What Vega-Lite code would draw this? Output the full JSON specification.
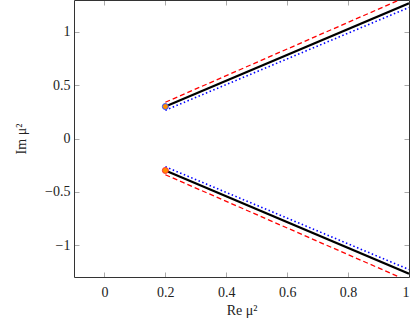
{
  "$schema": "https://vega.github.io/schema/vega-lite/v6.json",
  "width": 335,
  "height": 277,
  "autosize": "none",
  "padding": {"left": 74, "top": 0, "right": 10, "bottom": 56},
  "background": "white",
  "config": {
    "view": {"stroke": null},
    "font": "Liberation Serif, serif",
    "axis": {
      "labelFont": "Liberation Serif, serif",
      "titleFont": "Liberation Serif, serif",
      "labelFontSize": 14,
      "titleFontSize": 14,
      "titleFontWeight": "normal",
      "labelColor": "#222",
      "titleColor": "#222",
      "domainColor": "#333",
      "domainWidth": 1,
      "tickColor": "#aaa",
      "tickSize": -5,
      "grid": false
    }
  },
  "datasets": {
    "lines": [
      {"series": "black", "branch": "up", "x": 0.2, "y": 0.3},
      {"series": "black", "branch": "up", "x": 1.0, "y": 1.27},
      {"series": "black", "branch": "down", "x": 0.2, "y": -0.3},
      {"series": "black", "branch": "down", "x": 1.0, "y": -1.27},
      {"series": "red", "branch": "up", "x": 0.2, "y": 0.34},
      {"series": "red", "branch": "up", "x": 1.0, "y": 1.34},
      {"series": "red", "branch": "down", "x": 0.2, "y": -0.34},
      {"series": "red", "branch": "down", "x": 1.0, "y": -1.34},
      {"series": "blue", "branch": "up", "x": 0.2, "y": 0.265},
      {"series": "blue", "branch": "up", "x": 1.0, "y": 1.23},
      {"series": "blue", "branch": "down", "x": 0.2, "y": -0.265},
      {"series": "blue", "branch": "down", "x": 1.0, "y": -1.23}
    ],
    "points": [
      {"branch": "up", "x": 0.2, "y": 0.3},
      {"branch": "down", "x": 0.2, "y": -0.3}
    ]
  },
  "layer": [
    {
      "data": {"name": "lines"},
      "transform": [{"filter": "datum.series === 'red'"}],
      "mark": {"type": "line", "clip": true, "color": "#ff0000", "strokeWidth": 1.3, "strokeDash": [5, 3]},
      "encoding": {
        "x": {"field": "x", "type": "quantitative", "scale": {"domain": [-0.1, 1], "nice": false, "zero": false},
          "axis": {"orient": "bottom", "title": "Re μ²", "values": [0, 0.2, 0.4, 0.6, 0.8, 1], "labelPadding": 13, "titlePadding": 4, "format": "~g"}},
        "y": {"field": "y", "type": "quantitative", "scale": {"domain": [-1.3, 1.3], "nice": false, "zero": false},
          "axis": {"orient": "left", "title": "Im μ²", "values": [-1, -0.5, 0, 0.5, 1], "labelPadding": 9, "titlePadding": 16, "format": "~g"}},
        "detail": {"field": "branch"}
      }
    },
    {
      "data": {"name": "lines"},
      "transform": [{"filter": "datum.series === 'blue'"}],
      "mark": {"type": "line", "clip": true, "color": "#0000ff", "strokeWidth": 1.6, "strokeDash": [1.5, 2.5]},
      "encoding": {
        "x": {"field": "x", "type": "quantitative",
          "axis": {"orient": "top", "title": null, "labels": false, "values": [0, 0.2, 0.4, 0.6, 0.8, 1]}},
        "y": {"field": "y", "type": "quantitative",
          "axis": {"orient": "right", "title": null, "labels": false, "values": [-1, -0.5, 0, 0.5, 1]}},
        "detail": {"field": "branch"}
      }
    },
    {
      "data": {"name": "lines"},
      "transform": [{"filter": "datum.series === 'black'"}],
      "mark": {"type": "line", "clip": true, "color": "#000000", "strokeWidth": 2.2},
      "encoding": {
        "x": {"field": "x", "type": "quantitative", "axis": null},
        "y": {"field": "y", "type": "quantitative", "axis": null},
        "detail": {"field": "branch"}
      }
    },
    {
      "data": {"name": "points"},
      "mark": {"type": "point", "filled": false, "shape": "circle", "size": 36, "fill": "#ff8c00", "fillOpacity": 1, "strokeWidth": 1},
      "encoding": {
        "x": {"field": "x", "type": "quantitative", "axis": null},
        "y": {"field": "y", "type": "quantitative", "axis": null},
        "stroke": {"field": "branch", "type": "nominal", "scale": {"domain": ["up", "down"], "range": ["#3050ff", "#ff3030"]}, "legend": null}
      }
    }
  ]
}
